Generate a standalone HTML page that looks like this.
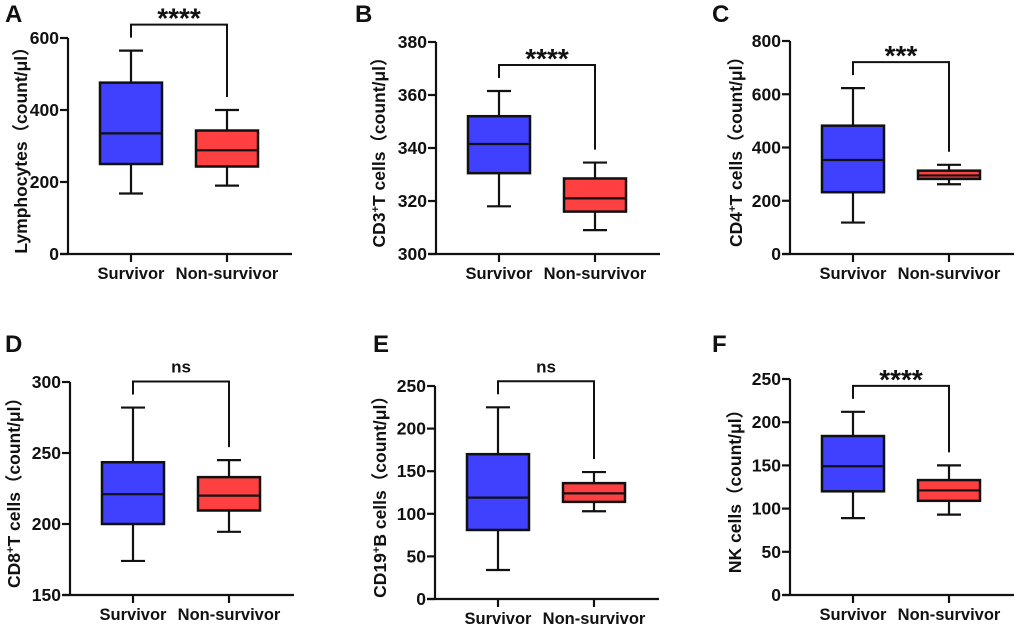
<!DOCTYPE html>
<html><head><meta charset="utf-8"><style>
html,body{margin:0;padding:0;background:#fff;}
svg{display:block;font-family:"Liberation Sans","Noto Sans CJK SC",sans-serif;}
text{font-weight:bold;fill:#111;}
</style></head><body>
<svg id="fig" width="1020" height="629" viewBox="0 0 1020 629" xmlns="http://www.w3.org/2000/svg"></svg>
<script>
const categories = ["Survivor", "Non-survivor"];
const panelLetters = ["A","B","C","D","E","F"];
const yTitles = ["Lymphocytes", "CD3|+|T cells", "CD4|+|T cells", "CD8|+|T cells", "CD19|+|B cells", "NK cells"];
const yDomains = [[0,600],[300,380],[0,800],[150,300],[0,250],[0,250]];
const yTicks = [[0,200,400,600],[300,320,340,360,380],[0,200,400,600,800],[150,200,250,300],[0,50,100,150,200,250],[0,50,100,150,200,250]];
const sigLabels = ["****","****","***","ns","ns","****"];
// [min, q1, median, q3, max]
const survivorStats = [[168,250,335,476,565],[318,330.5,341.5,352,361.5],[118,232,353,482,623],[174,200,221,243.5,282],[34,81,119,170,225],[89,120,149,184,212]];
const nonSurvivorStats = [[190,243,288,343,400],[309,316,321,328.5,334.5],[262,282,295,313,335],[194.5,209.5,220,233,245],[103,114,124,136,149],[93,109,121,133,150]];

const layout = [
 {x0:68,yt:38,yb:254,lx:5,ly:22,tx:22},
 {x0:436,yt:42,yb:254,lx:355,ly:22,tx:380},
 {x0:790,yt:41,yb:254,lx:712,ly:22,tx:737},
 {x0:70,yt:382,yb:595,lx:5,ly:352,tx:15},
 {x0:435,yt:386,yb:599,lx:373,ly:352,tx:381},
 {x0:790,yt:379,yb:595,lx:712,ly:352,tx:736}
];
const NS="http://www.w3.org/2000/svg";
const svg=document.getElementById('fig');
function mk(tag,attrs,parent){const e=document.createElementNS(NS,tag);for(const k in attrs)e.setAttribute(k,attrs[k]);(parent||svg).appendChild(e);return e;}
const colors=["#4040ff","#ff4040"];
for(let p=0;p<6;p++){
  const L=layout[p];
  const g=mk('g',{});
  
  
  const [d0,d1]=yDomains[p];
  const y=v=>L.yb-(v-d0)/(d1-d0)*(L.yb-L.yt);
  const cx=[L.x0+63,L.x0+159];
  const xEnd=L.x0+224;
  const letter=mk('text',{x:L.lx,y:L.ly,'font-size':24},g);letter.textContent=panelLetters[p];
  
  
  const ya=mk('line',{x1:L.x0,y1:L.yt,x2:L.x0,y2:L.yb,stroke:'#111','stroke-width':2.2},g);
  
  
  const xa=mk('line',{x1:L.x0-8,y1:L.yb,x2:xEnd,y2:L.yb,stroke:'#111','stroke-width':2.2},g);
  
  
  yTicks[p].forEach(t=>{
    mk('line',{x1:L.x0-8,y1:y(t),x2:L.x0,y2:y(t),stroke:'#111','stroke-width':2.2},g);
    const tl=mk('text',{x:L.x0-9,y:y(t)+6,'font-size':17.5,'text-anchor':'end'},g);tl.textContent=t;
    
    
  });
  const parts=yTitles[p].split('|');
  const cy=(L.yt+L.yb)/2;
  const tt=mk('text',{transform:`translate(${L.tx+5},${cy}) rotate(-90)`,'font-size':17.5,'text-anchor':'middle'},g);
  
  
  if(parts.length===3){
    mk('tspan',{},tt).textContent=parts[0];
    mk('tspan',{'baseline-shift':'super','font-size':11},tt).textContent=parts[1];
    mk('tspan',{},tt).textContent=parts[2];
  } else tt.appendChild(document.createTextNode(parts[0]));
  const u=mk('tspan',{},tt);u.textContent='（count/μl）';
  const stats=[survivorStats[p],nonSurvivorStats[p]];
  for(let i=0;i<2;i++){
    const s=stats[i],c=cx[i];
    mk('line',{x1:c,y1:L.yb,x2:c,y2:L.yb+8,stroke:'#111','stroke-width':2.2},g);
    const cl=mk('text',{x:c,y:L.yb+25,'font-size':16.5,'text-anchor':'middle'},g);cl.textContent=categories[i];
    
    
    const bg=mk('g',{},g);
    
    
    mk('line',{x1:c,y1:y(s[0]),x2:c,y2:y(s[4]),stroke:'#111','stroke-width':2.2},bg);
    mk('line',{x1:c-12,y1:y(s[0]),x2:c+12,y2:y(s[0]),stroke:'#111','stroke-width':2.2},bg);
    mk('line',{x1:c-12,y1:y(s[4]),x2:c+12,y2:y(s[4]),stroke:'#111','stroke-width':2.2},bg);
    mk('rect',{x:c-31,y:y(s[3]),width:62,height:y(s[1])-y(s[3]),fill:colors[i],stroke:'#111','stroke-width':2.5},bg);
    mk('line',{x1:c-31,y1:y(s[2]),x2:c+31,y2:y(s[2]),stroke:'#111','stroke-width':2.2},bg);
  }
  const l0=y(stats[0][4])-13,l1=y(stats[1][4])-13;
  const by=Math.min(l0,l1)-13;
  const br=mk('polyline',{points:`${cx[0]},${l0} ${cx[0]},${by} ${cx[1]},${by} ${cx[1]},${l1}`,fill:'none',stroke:'#111','stroke-width':2},g);
  
  
  const isNs=sigLabels[p]==='ns';
  const sl=mk('text',{x:(cx[0]+cx[1])/2,y:isNs?by-9:by+3,'font-size':isNs?17:28,'text-anchor':'middle','font-weight':isNs?'normal':'bold'},g);
  sl.textContent=sigLabels[p];
  
  
}
</script>
</body></html>
